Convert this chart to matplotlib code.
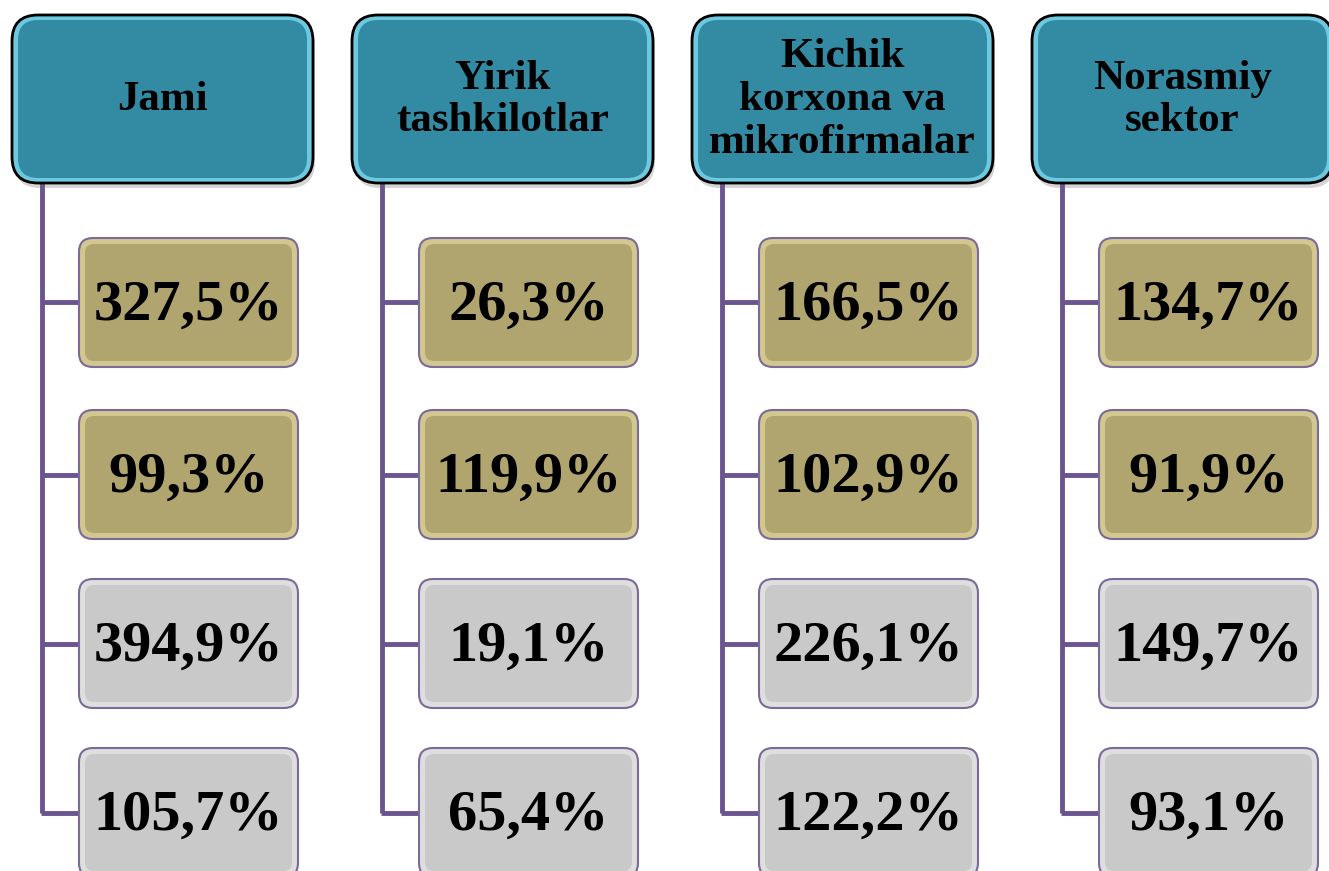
import matplotlib
matplotlib.use("Agg")
import matplotlib.pyplot as plt
from matplotlib.patches import FancyBboxPatch

headers = ["Jami", "Yirik\ntashkilotlar", "Kichik\nkorxona va\nmikrofirmalar", "Norasmiy\nsektor"]
values = [
    ["327,5%", "99,3%", "394,9%", "105,7%"],
    ["26,3%", "119,9%", "19,1%", "65,4%"],
    ["166,5%", "102,9%", "226,1%", "122,2%"],
    ["134,7%", "91,9%", "149,7%", "93,1%"],
]
row_kind = ["olive", "olive", "grey", "grey"]

W, H = 1329, 871
fig = plt.figure(figsize=(W / 100, H / 100), dpi=100)
ax = fig.add_axes([0, 0, 1, 1])
ax.set_xlim(0, W)
ax.set_ylim(H, 0)
ax.axis("off")

FONT = ["Liberation Serif", "DejaVu Serif"]
LINE = "#6b5490"

fills = {
    "olive": ("#d2c88f", "#b0a56e", "#7a6a98"),
    "grey": ("#dedede", "#c9c9c9", "#7a6a98"),
}

col_step = 340
hx0, hy0, hw, hh = 12, 15, 301, 168
row_tops = [238, 410, 579, 748]
bh, bw, bx_off = 129, 219, 67
line_off = 30


def rbox(x, y, w, h, r, fc, ec, lw, z, alpha=1.0):
    p = FancyBboxPatch((x + r, y + r), w - 2 * r, h - 2 * r,
                       boxstyle=f"round,pad={r}", fc=fc, ec=ec, lw=lw,
                       zorder=z, alpha=alpha, mutation_aspect=1)
    ax.add_patch(p)


for i, (head, vals) in enumerate(zip(headers, values)):
    x0 = hx0 + col_step * i
    # shadow
    rbox(x0 + 2, hy0 + 5, hw, hh, 26, "#aaaaaa", "none", 0, 1, alpha=0.5)
    # header box with bevel look
    rbox(x0, hy0, hw, hh, 26, "#6cc9e0", "black", 2.0, 2)
    rbox(x0 + 6, hy0 + 5, hw - 12, hh - 10, 20, "#338ba3", "none", 0, 3)
    ax.text(x0 + hw / 2, hy0 + hh / 2 + 1, head, ha="center", va="center",
            fontsize=31, fontweight="bold", family=FONT, linespacing=1.17,
            color="black", zorder=5)

    lx = x0 + line_off
    centers = [t + bh / 2 for t in row_tops]
    ax.plot([lx, lx], [hy0 + hh, centers[-1]], color=LINE, lw=3.5,
            solid_capstyle="butt", zorder=1)
    for j, (v, kind) in enumerate(zip(vals, row_kind)):
        bx = x0 + bx_off
        by = row_tops[j]
        cy = centers[j]
        ax.plot([lx - 1.5, bx], [cy, cy], color=LINE, lw=3.5,
                solid_capstyle="butt", zorder=1)
        light, main, edge = fills[kind]
        rbox(bx, by, bw, bh, 14, light, edge, 1.5, 2)
        rbox(bx + 6, by + 6, bw - 12, bh - 12, 9, main, "none", 0, 3)
        ax.text(bx + bw / 2, cy + 3, v, ha="center", va="center",
                fontsize=42, fontweight="bold", family=FONT,
                color="black", zorder=5)

fig.savefig("out.png", dpi=100)
